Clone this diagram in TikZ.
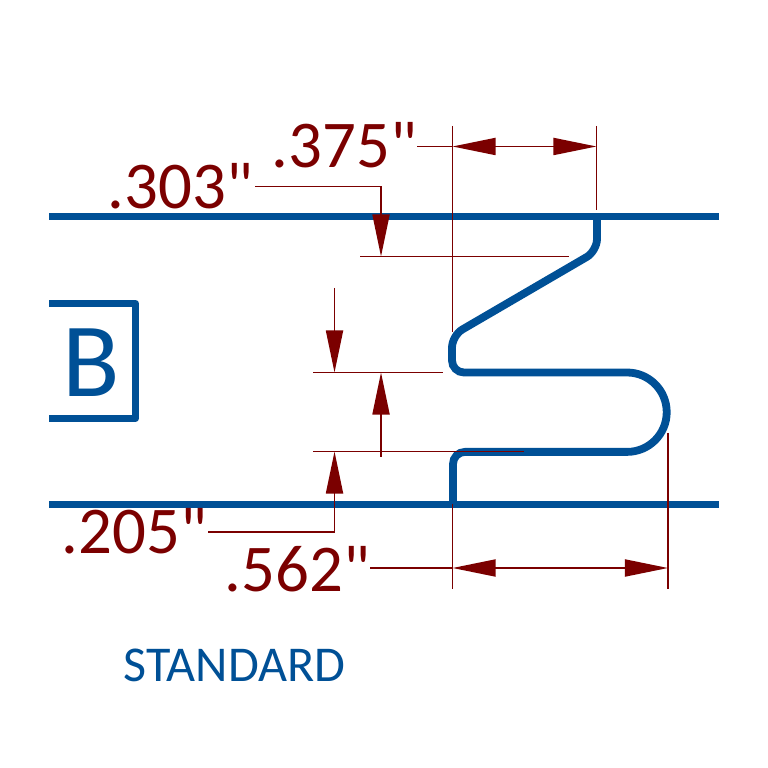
\documentclass[tikz,border=0pt]{standalone}
\usepackage{fontspec}
\newfontfamily\drawfont{Carlito}
\usetikzlibrary{arrows.meta}
\definecolor{steelblue}{HTML}{005096}
\definecolor{dimred}{HTML}{7B0000}
\begin{document}
\begin{tikzpicture}[x=0.01cm,y=-0.01cm]
            \tikzset{
                bar/.style={steelblue,line width=0.07cm},
                dimline/.style={dimred,line width=0.018cm},
                dimarrow/.style={dimline,-{Triangle[length=4.2mm,width=1.7mm]}},
                dimboth/.style={dimline,{Triangle[length=4.3mm,width=1.7mm]}-{Triangle[length=4.3mm,width=1.7mm]}},
                dimtext/.style={dimred,font=\drawfont\fontsize{19}{20}\selectfont,anchor=base west,inner sep=0pt},
            }
            \useasboundingbox (0,0) rectangle (768,768);
            % rails
            \coordinate (topl) at (49,216.5);
            \coordinate (topr) at (719,216.5);
            \coordinate (botl) at (49,504.5);
            \coordinate (botr) at (719,504.5);
            \draw [bar] (topl) -- (topr);
            \draw [bar] (botl) -- (botr);
            % the bent strip
            \draw [bar,line width=0.078cm,rounded corners=0.12cm] (597,216) -- (597,251) -- (452,335.5) -- (452,372.5)
                [sharp corners] -- (627,372.5) arc[start angle=-90,end angle=90,radius=39.7]
                [rounded corners=0.12cm] -- (453,451.9) -- (453,504.5);
            % box
            \draw [bar,line width=0.068cm,line join=round] (49,303.5) -- (135.5,303.5) -- (135.5,418.5) -- (49,418.5);
            \node [steelblue,font=\drawfont\fontsize{30}{32}\selectfont,anchor=base west,inner sep=0pt] (boxb) at (62,397) {B};
            \node [steelblue,font=\drawfont\fontsize{14.25}{16}\selectfont,anchor=base west,inner sep=0pt] (std) at (123,681) {STANDARD};
            % labels
            \node [dimtext] (lbla) at (271,168) {.375"};
            \node [dimtext] (lblb) at (107,209) {.303"};
            \node [dimtext] (lblc) at (61,554) {.205"};
            \node [dimtext] (lbld) at (224,591) {.562"};
            % .375 dimension
            \coordinate (a1) at (452.5,126);
            \coordinate (a2) at (452.5,332);
            \coordinate (a3) at (596.5,126);
            \coordinate (a4) at (596.5,210);
            \coordinate (a5) at (417,146.5);
            \coordinate (a6) at (452.5,146.5);
            \coordinate (a7) at (596.5,146.5);
            \draw [dimline] (a1) -- (a2);
            \draw [dimline] (a3) -- (a4);
            \draw [dimline] (a5) -- (a6);
            \draw [dimboth] (a6) -- (a7);
            % .303 dimension
            \coordinate (b1) at (255,186.5);
            \coordinate (b2) at (381,186.5);
            \coordinate (b3) at (381,256.5);
            \coordinate (b4) at (360,256.5);
            \coordinate (b5) at (569,256.5);
            \draw [dimarrow] (b1) -- (b2) -- (b3);
            \draw [dimline] (b4) -- (b5);
            % gap between the legs
            \coordinate (c1) at (334.5,288);
            \coordinate (c2) at (334.5,372.5);
            \coordinate (c3) at (381,457);
            \coordinate (c4) at (381,372.5);
            \coordinate (c5) at (313,372.5);
            \coordinate (c6) at (443,372.5);
            \coordinate (c7) at (313,451.5);
            \coordinate (c8) at (524,451.5);
            \draw [dimarrow] (c1) -- (c2);
            \draw [dimarrow] (c3) -- (c4);
            \draw [dimline] (c5) -- (c6);
            \draw [dimline] (c7) -- (c8);
            % .205 dimension
            \coordinate (d1) at (208,532);
            \coordinate (d2) at (334.5,532);
            \coordinate (d3) at (334.5,451.5);
            \draw [dimarrow] (d1) -- (d2) -- (d3);
            % .562 dimension
            \coordinate (e1) at (452.5,504);
            \coordinate (e2) at (452.5,589);
            \coordinate (e3) at (668,433);
            \coordinate (e4) at (668,589);
            \coordinate (e5) at (370,568);
            \coordinate (e6) at (452.5,568);
            \coordinate (e7) at (668,568);
            \draw [dimline] (e1) -- (e2);
            \draw [dimline] (e3) -- (e4);
            \draw [dimline] (e5) -- (e6);
            \draw [dimboth] (e6) -- (e7);
        \end{tikzpicture}
\end{document}
